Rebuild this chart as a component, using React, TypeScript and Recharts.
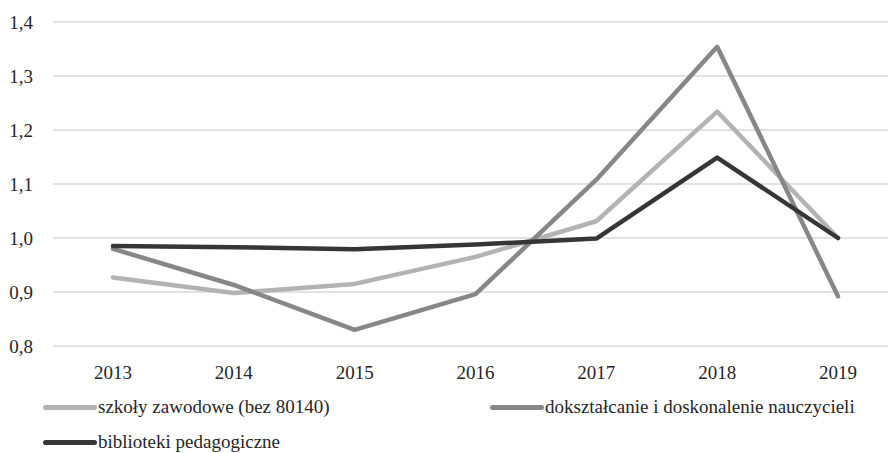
import { CartesianGrid, Legend, Line, LineChart, XAxis, YAxis } from 'recharts'

const years = ['2013', '2014', '2015', '2016', '2017', '2018', '2019']
const szkolyZawodowe = [0.927, 0.898, 0.915, 0.965, 1.031, 1.234, 1.0]
const doksztalcanie = [0.98, 0.913, 0.83, 0.896, 1.108, 1.354, 0.892]
const bibliotekiPedagogiczne = [0.985, 0.983, 0.979, 0.988, 0.999, 1.149, 1.0]
const yTicks = [0.8, 0.9, 1.0, 1.1, 1.2, 1.3, 1.4]

const seriesInfo = [
  { key: 'szkoly', name: 'szkoły zawodowe (bez 80140)', color: '#b3b3b3' },
  { key: 'doksz', name: 'dokształcanie i doskonalenie nauczycieli', color: '#878787' },
  { key: 'biblio', name: 'biblioteki pedagogiczne', color: '#363636' },
]

const chartData = years.map((year, i) => ({
  year,
  szkoly: szkolyZawodowe[i],
  doksz: doksztalcanie[i],
  biblio: bibliotekiPedagogiczne[i],
}))

const FONT = 'Liberation Serif'

// legend item positions (left, top) inside the legend box
const legendSpots = [
  { left: 43, top: 27 },
  { left: 490, top: 27 },
  { left: 43, top: 62 },
]

function ChartLegend() {
  return (
    <div style={{ position: 'relative', width: 888, height: 73, fontFamily: FONT, fontSize: 19, color: '#262626' }}>
      {seriesInfo.map((s, i) => (
        <div
          key={s.key}
          style={{
            position: 'absolute',
            left: legendSpots[i].left,
            top: legendSpots[i].top - 12,
            height: 24,
            display: 'flex',
            alignItems: 'center',
            whiteSpace: 'nowrap',
          }}
        >
          <span
            style={{
              display: 'inline-block',
              width: 54,
              height: 5,
              borderRadius: 3,
              background: s.color,
              marginRight: 1,
            }}
          />
          <span>{s.name}</span>
        </div>
      ))}
    </div>
  )
}

export default function App() {
  return (
    <div style={{ position: 'absolute', left: 0, top: 0, width: 888, height: 453, overflow: 'hidden', background: '#fff' }}>
      <LineChart
        width={900}
        height={453}
        data={chartData}
        margin={{ top: 22, right: 2, left: 0, bottom: 0 }}
      >
        <CartesianGrid stroke='#d9d9d9' strokeWidth={1.5} vertical={false} />
        <XAxis
          dataKey='year'
          height={34}
          padding={{ left: 60, right: 60 }}
          axisLine={false}
          tickLine={false}
          tickSize={0}
          tickMargin={20}
          interval={0}
          tick={{ fill: '#262626', fontSize: 19, fontFamily: FONT }}
        />
        <YAxis
          width={53}
          domain={[0.8, 1.4]}
          ticks={yTicks}
          axisLine={false}
          tickLine={false}
          tickSize={0}
          tickMargin={20}
          tickFormatter={(v: number) => v.toFixed(1).replace('.', ',')}
          tick={{ fill: '#262626', fontSize: 19, fontFamily: FONT }}
        />
        <Legend
          verticalAlign='bottom'
          content={() => <ChartLegend />}
          wrapperStyle={{ left: 0, top: 380, width: 888, height: 73 }}
        />
        {seriesInfo.map((s) => (
          <Line
            key={s.key}
            type='linear'
            dataKey={s.key}
            name={s.name}
            stroke={s.color}
            strokeWidth={4.5}
            strokeLinecap='round'
            strokeLinejoin='round'
            dot={false}
            activeDot={false}
            isAnimationActive={false}
          />
        ))}
      </LineChart>
    </div>
  )
}
